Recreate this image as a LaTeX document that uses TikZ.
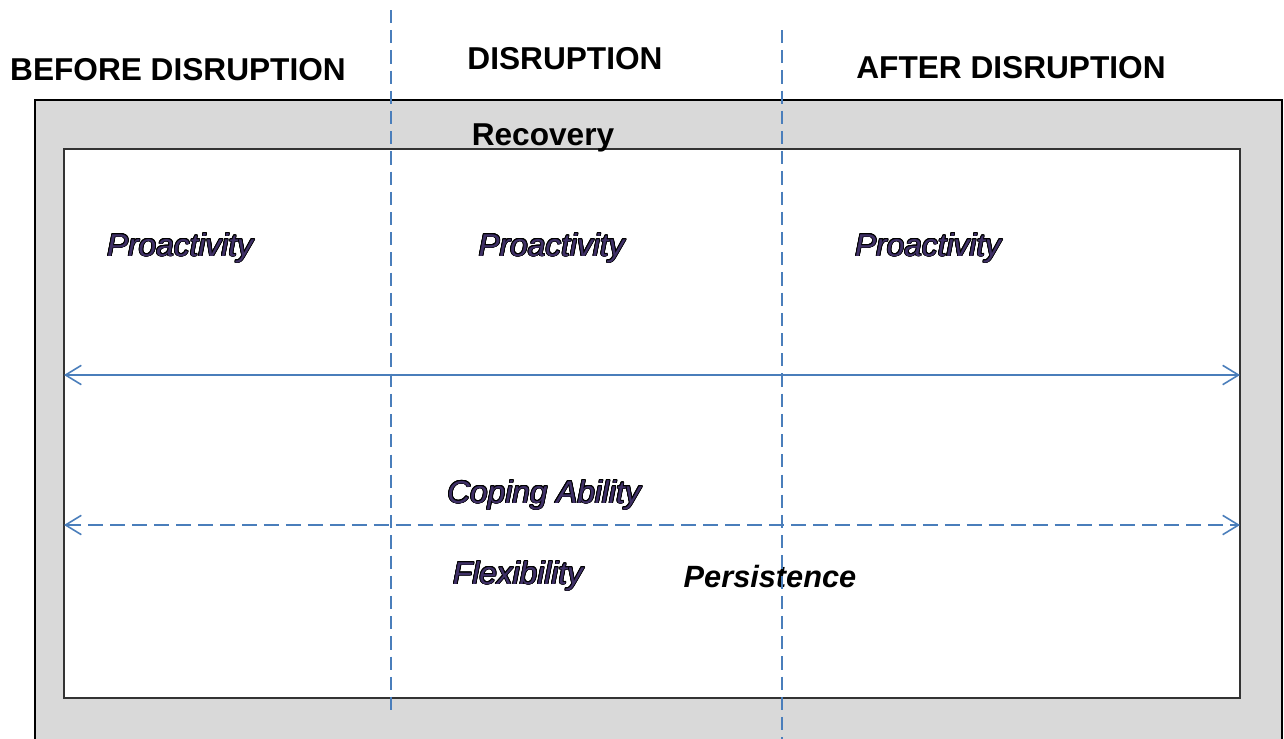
\documentclass[tikz,border=0pt]{standalone}
\usepackage{fontspec}
\setmainfont{Liberation Sans}
\usepackage{contour}
\usetikzlibrary{positioning,arrows.meta}
\definecolor{lineblue}{HTML}{4A7EBB}
\definecolor{boxgray}{HTML}{D9D9D9}
\definecolor{labelfill}{HTML}{3F3066}
\contourlength{0.45pt}
\newcommand{\outlined}[1]{\textcolor{labelfill}{\contour{black}{#1}}}
\tikzset{phase label/.style={font=\bfseries\fontsize{18}{21}\selectfont,inner sep=0pt,anchor=base},}
\tikzset{skill label/.style={font=\itshape\fontsize{18}{21}\selectfont,inner sep=0pt,anchor=base},}
\tikzset{divider/.style={draw=lineblue,line width=0.9pt,dash pattern=on 7.5pt off 4pt},}
\tikzset{span arrow/.style={draw=lineblue,line width=0.9pt,{Straight Barb[length=9pt,width=11pt]}-{Straight Barb[length=9pt,width=11pt]}},}

\begin{document}
\begin{tikzpicture}[x=0.02cm,y=-0.02cm]
       \clip (0,0) rectangle (1284,738);
       \fill[white] (0,0) rectangle (1284,738);

       % frames
       \draw[fill=boxgray,line width=0.6pt] (35,100) rectangle (1282,760);
       \draw[fill=white,draw=black!80,line width=1.1pt] (64,149) rectangle (1240,698);

       % headings
       \node[phase label] (before) at (178,80) {BEFORE DISRUPTION};
       \node[phase label] (during) at (565,69) {DISRUPTION};
       \node[phase label] (after) at (1011,78) {AFTER DISRUPTION};
       \node[phase label] (recovery) at (543,145) {Recovery};

       % labels
       \node[skill label] (pro1) at (180,256) {\outlined{Proactivity}};
       \node[skill label] (pro2) [right = 4.5cm of pro1] {\outlined{Proactivity}};
       \node[skill label] (pro3) [right = 4.6cm of pro2] {\outlined{Proactivity}};
       \node[skill label] (coping) at (544,503) {\outlined{Coping Ability}};
       \node[skill label] (flex) at (518,584) {\outlined{Flexibility}};
       \node[skill label,font=\bfseries\itshape\fontsize{17.5}{21}\selectfont] (persist) at (770,587) {Persistence};

       % spans
       \coordinate (solidL) at (64,375);
       \coordinate (solidR) at (1240,375);
       \coordinate (dashL) at (64,525);
       \coordinate (dashR) at (1240,525);
       \draw[span arrow] (solidL) -- (solidR);
       \draw[span arrow,dash pattern=on 8.5pt off 4pt] (dashL) -- (dashR);

       % phase dividers
       \coordinate (d1top) at (391,10);
       \coordinate (d1bot) at (391,710);
       \coordinate (d2top) at (782,30);
       \coordinate (d2bot) at (782,745);
       \draw[divider] (d1top) -- (d1bot);
       \draw[divider] (d2top) -- (d2bot);
\end{tikzpicture}
\end{document}
